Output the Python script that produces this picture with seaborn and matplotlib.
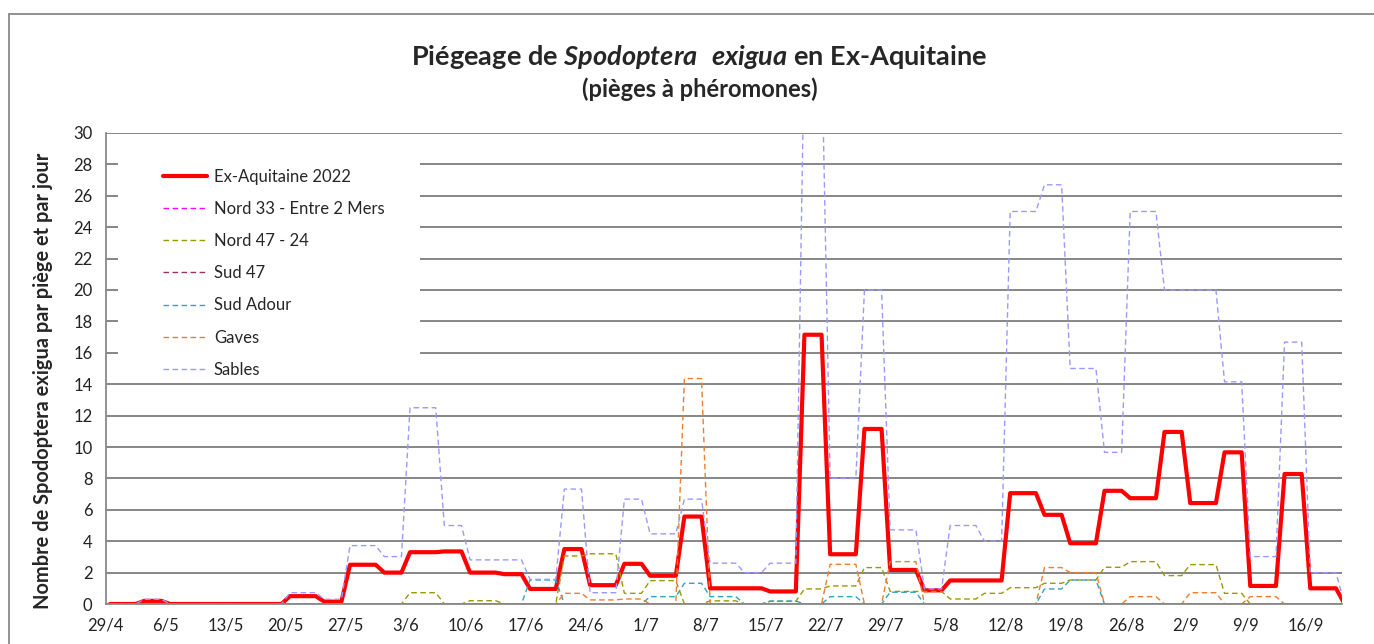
import pandas as pd
import matplotlib.pyplot as plt
import seaborn as sns
from matplotlib.patches import Rectangle

start = pd.Timestamp("2022-04-29")

# corners of each curve: day index (0 = 29/4) and moths per trap per day
aqui_days = [0, 3, 4, 6, 7, 20, 21, 24, 25, 27, 28, 31, 32, 34, 35, 38, 39, 41, 42, 45,
             46, 48, 49, 52, 53, 55, 56, 59, 60, 62, 63, 66, 67, 69, 70, 76, 77, 80, 81, 83,
             84, 87, 88, 90, 91, 94, 95, 97, 98, 104, 105, 108, 109, 111, 112, 115, 116, 118,
             119, 122, 123, 125, 126, 129, 130, 132, 133, 136, 137, 139, 140, 143, 144]
aqui_vals = [0, 0, 0.2, 0.2, 0, 0, 0.5, 0.5, 0.15, 0.15, 2.5, 2.5, 2.0, 2.0, 3.3, 3.3, 3.35, 3.35, 2.0, 2.0,
             1.9, 1.9, 0.96, 0.96, 3.5, 3.5, 1.2, 1.2, 2.56, 2.56, 1.8, 1.8, 5.57, 5.57, 1.0, 1.0, 0.8, 0.8, 17.15, 17.15,
             3.17, 3.17, 11.15, 11.15, 2.17, 2.17, 0.87, 0.87, 1.5, 1.5, 7.06, 7.06, 5.68, 5.68, 3.87, 3.87, 7.21, 7.21,
             6.74, 6.74, 10.96, 10.96, 6.43, 6.43, 9.66, 9.66, 1.15, 1.15, 8.28, 8.28, 1.0, 1.0, 0]

nord33_days = [0, 144]
nord33_vals = [0, 0]

nord47_days = [0, 34, 35, 38, 39, 41, 42, 45, 46, 52, 53, 55, 56, 59, 60, 62, 63, 66, 67, 69,
               70, 73, 74, 76, 77, 80, 81, 83, 84, 87, 88, 90, 91, 97, 98, 101, 102, 104, 105, 108,
               109, 111, 112, 115, 116, 118, 119, 122, 123, 125, 126, 129, 130, 132, 133, 144]
nord47_vals = [0, 0, 0.72, 0.72, 0, 0, 0.21, 0.21, 0, 0, 3.06, 3.06, 3.2, 3.2, 0.68, 0.68, 1.49, 1.49, 0, 0,
               0.2, 0.2, 0, 0, 0.17, 0.17, 0.96, 0.96, 1.15, 1.15, 2.32, 2.32, 0.8, 0.8, 0.32, 0.32, 0.68, 0.68, 1.04, 1.04,
               1.32, 1.32, 1.53, 1.53, 2.34, 2.34, 2.7, 2.7, 1.81, 1.81, 2.51, 2.51, 0.68, 0.68, 0, 0]

sud47_days = [0, 144]
sud47_vals = [0, 0]

adour_days = [0, 48, 49, 52, 53, 62, 63, 66, 67, 69, 70, 73, 74, 76, 77, 80, 81, 83, 84, 87,
              88, 90, 91, 94, 95, 108, 109, 111, 112, 115, 116, 144]
adour_vals = [0, 0, 1.53, 1.53, 0, 0, 0.47, 0.47, 1.32, 1.32, 0.47, 0.47, 0, 0, 0.19, 0.19, 0, 0, 0.47, 0.47,
              0, 0, 0.75, 0.75, 0, 0, 0.96, 0.96, 1.53, 1.53, 0, 0]

gaves_days = [0, 52, 53, 55, 56, 59, 60, 62, 63, 66, 67, 69, 70, 83, 84, 87, 88, 90, 91, 94,
              95, 108, 109, 111, 112, 115, 116, 118, 119, 122, 123, 125, 126, 129, 130, 132, 133, 136, 137, 144]
gaves_vals = [0, 0, 0.68, 0.68, 0.26, 0.26, 0.32, 0.32, 0, 0, 14.36, 14.36, 0, 0, 2.53, 2.53, 0, 0, 2.7, 2.7,
              0, 0, 2.32, 2.32, 2.0, 2.0, 0, 0, 0.47, 0.47, 0, 0, 0.72, 0.72, 0, 0, 0.47, 0.47, 0, 0]

sables_days = [0, 3, 4, 6, 7, 20, 21, 24, 25, 27, 28, 31, 32, 34, 35, 38, 39, 41, 42, 48,
               49, 52, 53, 55, 56, 59, 60, 62, 63, 66, 67, 69, 70, 73, 74, 76, 77, 80, 81, 83,
               84, 87, 88, 90, 91, 94, 95, 97, 98, 101, 102, 104, 105, 108, 109, 111, 112, 115, 116, 118,
               119, 122, 123, 129, 130, 132, 133, 136, 137, 139, 140, 143, 144]
sables_vals = [0, 0, 0.3, 0.3, 0, 0, 0.72, 0.72, 0.3, 0.3, 3.72, 3.72, 3.02, 3.02, 12.5, 12.5, 5.0, 5.0, 2.81, 2.81,
               1.57, 1.57, 7.32, 7.32, 0.72, 0.72, 6.68, 6.68, 4.47, 4.47, 6.68, 6.68, 2.6, 2.6, 2.0, 2.0, 2.6, 2.6, 36, 36,
               8.0, 8.0, 20.0, 20.0, 4.72, 4.72, 0.96, 0.96, 5.0, 5.0, 4.0, 4.0, 25.0, 25.0, 26.7, 26.7, 15.0, 15.0, 9.66, 9.66,
               25.0, 25.0, 20.0, 20.0, 14.15, 14.15, 3.02, 3.02, 16.68, 16.68, 2.0, 2.0, 0]

series = [
    ("Ex-Aquitaine 2022", aqui_days, aqui_vals, "#FF0000", 3.0, False),
    ("Nord 33 - Entre 2 Mers", nord33_days, nord33_vals, "#FF00FF", 1.0, True),
    ("Nord 47 - 24", nord47_days, nord47_vals, "#999900", 1.0, True),
    ("Sud 47", sud47_days, sud47_vals, "#993366", 1.0, True),
    ("Sud Adour", adour_days, adour_vals, "#31A2C0", 1.0, True),
    ("Gaves", gaves_days, gaves_vals, "#ED7D31", 1.0, True),
    ("Sables", sables_days, sables_vals, "#9999FF", 1.0, True),
]

tick_dates = pd.date_range(start, periods=21, freq="7D")

sns.set_style("white")
plt.rcParams["font.family"] = ["Lato", "DejaVu Sans"]
plt.rcParams["mathtext.fontset"] = "custom"
plt.rcParams["mathtext.it"] = "Lato:italic:bold"
plt.rcParams["mathtext.rm"] = "Lato:bold"

fig = plt.figure(figsize=(13.74, 6.44), dpi=100)
ax = fig.add_axes([0.0769, 0.0621, 0.8998, 0.7314])

for name, days, vals, col, lw, dashed in series:
    x = start + pd.to_timedelta(days, unit="D") + pd.Timedelta(hours=12)
    sns.lineplot(x=x, y=vals, ax=ax, color=col, linewidth=lw, label=name,
                 estimator=None, sort=False)
    if dashed:
        ax.lines[-1].set_dashes((4, 2.5))

ax.set_ylim(0, 30)
ax.set_yticks(range(0, 31, 2))
ax.set_xlim(start, start + pd.Timedelta(days=144.2))
ax.set_xticks(tick_dates)
ax.set_xticklabels([f"{d.day}/{d.month}" for d in tick_dates])
ax.tick_params(axis="both", labelsize=12, colors="#898989", length=6, width=1.3)
for lab in ax.get_xticklabels() + ax.get_yticklabels():
    lab.set_color("#222222")
ax.yaxis.grid(True, color="#868686", linewidth=1.4)
ax.set_axisbelow(True)
for side in ["top", "right"]:
    ax.spines[side].set_visible(False)
for side in ["left", "bottom"]:
    ax.spines[side].set_color("#898989")
    ax.spines[side].set_linewidth(1.3)
ax.set_xlabel("")
ax.set_ylabel("Nombre de Spodoptera exigua par piège et par jour", fontsize=14.4,
              fontweight="bold")
ax.yaxis.set_label_coords(-0.0426, 0.4735)

# white block behind the legend hides the grid
ax.add_patch(Rectangle((0.01, 0.469), 0.244, 0.516, transform=ax.transAxes,
                       facecolor="white", edgecolor="none", zorder=1.5))
ax.legend(loc="upper left", bbox_to_anchor=(0.0463, 0.924), frameon=False, fontsize=12,
          borderpad=0, borderaxespad=0, handlelength=2.64, handletextpad=0.42,
          labelspacing=0.97)

fig.text(0.509, 0.912, r"Piégeage de $\mathit{Spodoptera\ \ exigua}$ en Ex-Aquitaine",
         ha="center", va="center", fontsize=19.5, fontweight="bold")
fig.text(0.509, 0.862, "(pièges à phéromones)", ha="center", va="center",
         fontsize=17, fontweight="bold")

fig.add_artist(Rectangle((8.5 / 1374, -0.05), 1.1, 0.9783 + 0.05, transform=fig.transFigure,
                         facecolor="none", edgecolor="#898989", linewidth=1.3))

fig.savefig("out.png", dpi=100)
